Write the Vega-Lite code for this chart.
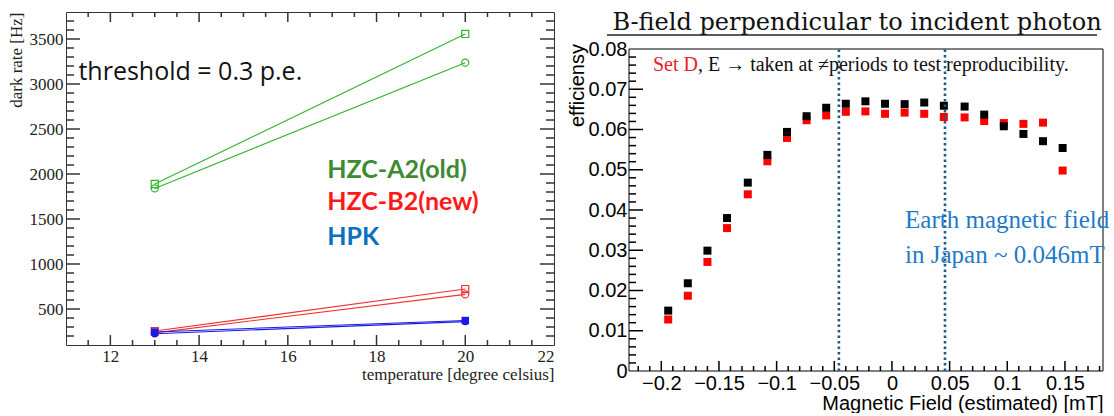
{
  "$schema": "https://vega.github.io/schema/vega-lite/v6.json",
  "background": "white",
  "padding": {"left": 6, "top": 10, "right": 0, "bottom": 0},
  "spacing": 12,
  "config": {
    "view": {"stroke": "#000", "strokeWidth": 1},
    "axis": {"domain": false, "grid": false, "ticks": false}
  },
  "datasets": {
    "dark": [
      {"s": "A2sq", "t": 13, "r": 1889}, {"s": "A2sq", "t": 20, "r": 3556},
      {"s": "A2ci", "t": 13, "r": 1840}, {"s": "A2ci", "t": 20, "r": 3237},
      {"s": "B2sq", "t": 13, "r": 255}, {"s": "B2sq", "t": 20, "r": 722},
      {"s": "B2ci", "t": 13, "r": 235}, {"s": "B2ci", "t": 20, "r": 662},
      {"s": "HPKsq", "t": 13, "r": 245}, {"s": "HPKsq", "t": 20, "r": 372},
      {"s": "HPKci", "t": 13, "r": 225}, {"s": "HPKci", "t": 20, "r": 360}
    ],
    "eff": [
      {"set": "D", "b": -0.194, "e": 0.0128}, {"set": "D", "b": -0.177, "e": 0.0187},
      {"set": "D", "b": -0.160, "e": 0.0271}, {"set": "D", "b": -0.143, "e": 0.0355},
      {"set": "D", "b": -0.125, "e": 0.0439}, {"set": "D", "b": -0.108, "e": 0.0521},
      {"set": "D", "b": -0.091, "e": 0.0579}, {"set": "D", "b": -0.074, "e": 0.0623},
      {"set": "D", "b": -0.057, "e": 0.0635}, {"set": "D", "b": -0.040, "e": 0.0644},
      {"set": "D", "b": -0.023, "e": 0.0645}, {"set": "D", "b": -0.006, "e": 0.0639},
      {"set": "D", "b": 0.011, "e": 0.0642}, {"set": "D", "b": 0.028, "e": 0.0639},
      {"set": "D", "b": 0.045, "e": 0.0631}, {"set": "D", "b": 0.063, "e": 0.0630},
      {"set": "D", "b": 0.080, "e": 0.0621}, {"set": "D", "b": 0.097, "e": 0.0616},
      {"set": "D", "b": 0.114, "e": 0.0614}, {"set": "D", "b": 0.131, "e": 0.0617},
      {"set": "D", "b": 0.148, "e": 0.0498},
      {"set": "E", "b": -0.194, "e": 0.0150}, {"set": "E", "b": -0.177, "e": 0.0218},
      {"set": "E", "b": -0.160, "e": 0.0299}, {"set": "E", "b": -0.143, "e": 0.0380},
      {"set": "E", "b": -0.125, "e": 0.0468}, {"set": "E", "b": -0.108, "e": 0.0537},
      {"set": "E", "b": -0.091, "e": 0.0594}, {"set": "E", "b": -0.074, "e": 0.0633},
      {"set": "E", "b": -0.057, "e": 0.0654}, {"set": "E", "b": -0.040, "e": 0.0664},
      {"set": "E", "b": -0.023, "e": 0.0670}, {"set": "E", "b": -0.006, "e": 0.0664},
      {"set": "E", "b": 0.011, "e": 0.0663}, {"set": "E", "b": 0.028, "e": 0.0667},
      {"set": "E", "b": 0.045, "e": 0.0659}, {"set": "E", "b": 0.063, "e": 0.0657},
      {"set": "E", "b": 0.080, "e": 0.0637}, {"set": "E", "b": 0.097, "e": 0.0608},
      {"set": "E", "b": 0.114, "e": 0.0589}, {"set": "E", "b": 0.131, "e": 0.0571},
      {"set": "E", "b": 0.148, "e": 0.0554}
    ],
    "earth": [{"b": -0.046}, {"b": 0.046}],
    "one": [{}],
    "lymaj": [{"v": 500}, {"v": 1000}, {"v": 1500}, {"v": 2000}, {"v": 2500}, {"v": 3000}, {"v": 3500}],
    "lymin": [{"v": 200}, {"v": 300}, {"v": 400}, {"v": 600}, {"v": 700}, {"v": 800}, {"v": 900}, {"v": 1100}, {"v": 1200}, {"v": 1300}, {"v": 1400}, {"v": 1600}, {"v": 1700}, {"v": 1800}, {"v": 1900}, {"v": 2100}, {"v": 2200}, {"v": 2300}, {"v": 2400}, {"v": 2600}, {"v": 2700}, {"v": 2800}, {"v": 2900}, {"v": 3100}, {"v": 3200}, {"v": 3300}, {"v": 3400}, {"v": 3600}, {"v": 3700}],
    "lxmaj": [{"v": 12}, {"v": 14}, {"v": 16}, {"v": 18}, {"v": 20}],
    "lxmin": [{"v": 11.5}, {"v": 12.5}, {"v": 13}, {"v": 13.5}, {"v": 14.5}, {"v": 15}, {"v": 15.5}, {"v": 16.5}, {"v": 17}, {"v": 17.5}, {"v": 18.5}, {"v": 19}, {"v": 19.5}, {"v": 20.5}, {"v": 21}, {"v": 21.5}],
    "rymaj": [{"v": 0.01}, {"v": 0.02}, {"v": 0.03}, {"v": 0.04}, {"v": 0.05}, {"v": 0.06}, {"v": 0.07}],
    "rymin": [{"v": 0.002}, {"v": 0.004}, {"v": 0.006}, {"v": 0.008}, {"v": 0.012}, {"v": 0.014}, {"v": 0.016}, {"v": 0.018}, {"v": 0.022}, {"v": 0.024}, {"v": 0.026}, {"v": 0.028}, {"v": 0.032}, {"v": 0.034}, {"v": 0.036}, {"v": 0.038}, {"v": 0.042}, {"v": 0.044}, {"v": 0.046}, {"v": 0.048}, {"v": 0.052}, {"v": 0.054}, {"v": 0.056}, {"v": 0.058}, {"v": 0.062}, {"v": 0.064}, {"v": 0.066}, {"v": 0.068}, {"v": 0.072}, {"v": 0.074}, {"v": 0.076}, {"v": 0.078}],
    "rxmaj": [{"v": -0.2}, {"v": -0.15}, {"v": -0.1}, {"v": -0.05}, {"v": 0}, {"v": 0.05}, {"v": 0.1}, {"v": 0.15}],
    "rxmin": [{"v": -0.22}, {"v": -0.21}, {"v": -0.19}, {"v": -0.18}, {"v": -0.17}, {"v": -0.16}, {"v": -0.14}, {"v": -0.13}, {"v": -0.12}, {"v": -0.11}, {"v": -0.09}, {"v": -0.08}, {"v": -0.07}, {"v": -0.06}, {"v": -0.04}, {"v": -0.03}, {"v": -0.02}, {"v": -0.01}, {"v": 0.01}, {"v": 0.02}, {"v": 0.03}, {"v": 0.04}, {"v": 0.06}, {"v": 0.07}, {"v": 0.08}, {"v": 0.09}, {"v": 0.11}, {"v": 0.12}, {"v": 0.13}, {"v": 0.14}, {"v": 0.16}, {"v": 0.17}, {"v": 0.18}]
  },
  "hconcat": [
    {
      "width": 488,
      "height": 333,
      "view": {"stroke": "#333"},
      "resolve": {"axis": {"x": "independent", "y": "independent"}},
      "layer": [
        {
          "data": {"name": "dark"},
          "mark": {"type": "line", "strokeWidth": 1.1},
          "encoding": {
            "x": {"field": "t", "type": "quantitative",
              "scale": {"domain": [11, 22], "nice": false, "zero": false},
              "axis": {"orient": "bottom", "values": [12, 14, 16, 18, 20, 22],
                "labelPadding": 3, "labelFont": "Liberation Serif", "labelFontSize": 17, "labelColor": "#222", "format": "d",
                "title": "temperature [degree celsius]", "titleFont": "Liberation Serif", "titleFontSize": 17,
                "titleFontWeight": "normal", "titleColor": "#222", "titleAnchor": "end", "titlePadding": 2}},
            "y": {"field": "r", "type": "quantitative",
              "scale": {"domain": [100, 3800], "nice": false, "zero": false},
              "axis": {"orient": "left", "values": [500, 1000, 1500, 2000, 2500, 3000, 3500],
                "labelPadding": 3, "labelFont": "Liberation Serif", "labelFontSize": 17, "labelColor": "#222", "format": "d",
                "title": "dark rate [Hz]", "titleFont": "Liberation Serif", "titleFontSize": 17,
                "titleFontWeight": "normal", "titleColor": "#222", "titleAnchor": "end", "titlePadding": 4}},
            "color": {"field": "s", "type": "nominal",
              "scale": {"domain": ["A2sq", "A2ci", "B2sq", "B2ci", "HPKsq", "HPKci"],
                "range": ["#2fb52f", "#2fb52f", "#f03030", "#f03030", "#1a1ae6", "#1a1ae6"]}, "legend": null},
            "detail": {"field": "s"}
          }
        },
        {
          "data": {"name": "dark"},
          "transform": [{"filter": "indexof(datum.s, 'HPK') < 0"}],
          "mark": {"type": "point", "filled": false, "strokeWidth": 1.2, "opacity": 1, "size": 50},
          "encoding": {
            "x": {"field": "t", "type": "quantitative", "axis": null},
            "y": {"field": "r", "type": "quantitative", "axis": null},
            "color": {"field": "s", "type": "nominal", "legend": null},
            "shape": {"field": "s", "type": "nominal",
              "scale": {"domain": ["A2sq", "A2ci", "B2sq", "B2ci", "HPKsq", "HPKci"],
                "range": ["square", "circle", "square", "circle", "square", "circle"]}, "legend": null}
          }
        },
        {
          "data": {"name": "dark"},
          "transform": [{"filter": "indexof(datum.s, 'HPK') >= 0"}],
          "mark": {"type": "point", "filled": true, "opacity": 1, "size": 55},
          "encoding": {
            "x": {"field": "t", "type": "quantitative", "axis": null},
            "y": {"field": "r", "type": "quantitative", "axis": null},
            "color": {"field": "s", "type": "nominal", "legend": null},
            "shape": {"field": "s", "type": "nominal", "legend": null}
          }
        },
        {
          "data": {"name": "lymaj"},
          "mark": {"type": "rule", "strokeWidth": 1.5, "color": "#333"},
          "encoding": {
            "y": {"field": "v", "type": "quantitative", "axis": null},
            "x": {"datum": 11, "type": "quantitative", "axis": null},
            "x2": {"datum": 11.3156}
          }
        },
        {
          "data": {"name": "lymaj"},
          "mark": {"type": "rule", "strokeWidth": 1.5, "color": "#333"},
          "encoding": {
            "y": {"field": "v", "type": "quantitative", "axis": null},
            "x": {"datum": 22, "type": "quantitative", "axis": null},
            "x2": {"datum": 21.6844}
          }
        },
        {
          "data": {"name": "lymin"},
          "mark": {"type": "rule", "strokeWidth": 1.5, "color": "#333"},
          "encoding": {
            "y": {"field": "v", "type": "quantitative", "axis": null},
            "x": {"datum": 11, "type": "quantitative", "axis": null},
            "x2": {"datum": 11.1803}
          }
        },
        {
          "data": {"name": "lymin"},
          "mark": {"type": "rule", "strokeWidth": 1.5, "color": "#333"},
          "encoding": {
            "y": {"field": "v", "type": "quantitative", "axis": null},
            "x": {"datum": 22, "type": "quantitative", "axis": null},
            "x2": {"datum": 21.8197}
          }
        },
        {
          "data": {"name": "lxmaj"},
          "mark": {"type": "rule", "strokeWidth": 1.5, "color": "#333"},
          "encoding": {
            "x": {"field": "v", "type": "quantitative", "axis": null},
            "y": {"datum": 100, "type": "quantitative", "axis": null},
            "y2": {"datum": 211.1}
          }
        },
        {
          "data": {"name": "lxmaj"},
          "mark": {"type": "rule", "strokeWidth": 1.5, "color": "#333"},
          "encoding": {
            "x": {"field": "v", "type": "quantitative", "axis": null},
            "y": {"datum": 3800, "type": "quantitative", "axis": null},
            "y2": {"datum": 3688.9}
          }
        },
        {
          "data": {"name": "lxmin"},
          "mark": {"type": "rule", "strokeWidth": 1.5, "color": "#333"},
          "encoding": {
            "x": {"field": "v", "type": "quantitative", "axis": null},
            "y": {"datum": 100, "type": "quantitative", "axis": null},
            "y2": {"datum": 155.6}
          }
        },
        {
          "data": {"name": "lxmin"},
          "mark": {"type": "rule", "strokeWidth": 1.5, "color": "#333"},
          "encoding": {
            "x": {"field": "v", "type": "quantitative", "axis": null},
            "y": {"datum": 3800, "type": "quantitative", "axis": null},
            "y2": {"datum": 3744.4}
          }
        },
        {
          "data": {"name": "one"},
          "mark": {"type": "text", "align": "left", "baseline": "middle", "font": "Open Sans", "fontSize": 25, "color": "#111"},
          "encoding": {
            "x": {"datum": 11.28, "type": "quantitative", "axis": null},
            "y": {"datum": 3133, "type": "quantitative", "axis": null},
            "text": {"value": "threshold = 0.3 p.e."}
          }
        },
        {
          "data": {"name": "one"},
          "mark": {"type": "text", "align": "left", "baseline": "middle", "font": "Lato", "fontWeight": "bold", "fontSize": 25, "color": "#3d8a33"},
          "encoding": {
            "x": {"datum": 16.89, "type": "quantitative", "axis": null},
            "y": {"datum": 2045, "type": "quantitative", "axis": null},
            "text": {"value": "HZC-A2(old)"}
          }
        },
        {
          "data": {"name": "one"},
          "mark": {"type": "text", "align": "left", "baseline": "middle", "font": "Lato", "fontWeight": "bold", "fontSize": 25, "color": "#ff1a1a"},
          "encoding": {
            "x": {"datum": 16.89, "type": "quantitative", "axis": null},
            "y": {"datum": 1689, "type": "quantitative", "axis": null},
            "text": {"value": "HZC-B2(new)"}
          }
        },
        {
          "data": {"name": "one"},
          "mark": {"type": "text", "align": "left", "baseline": "middle", "font": "Lato", "fontWeight": "bold", "fontSize": 25, "color": "#0b6fc2"},
          "encoding": {
            "x": {"datum": 16.89, "type": "quantitative", "axis": null},
            "y": {"datum": 1300, "type": "quantitative", "axis": null},
            "text": {"value": "HPK"}
          }
        }
      ]
    },
    {
      "width": 474,
      "height": 359,
      "view": {"stroke": null},
      "resolve": {"axis": {"x": "independent", "y": "independent"}},
      "layer": [
        {
          "data": {"name": "eff"},
          "transform": [{"filter": "datum.set === 'D'"}],
          "mark": {"type": "square", "size": 64, "opacity": 1, "color": "#ff0000"},
          "encoding": {
            "x": {"field": "b", "type": "quantitative",
              "scale": {"domain": [-0.228, 0.183], "nice": false, "zero": false},
              "axis": {"orient": "bottom", "values": [-0.2, -0.15, -0.1, -0.05, 0, 0.05, 0.1, 0.15],
                "labelPadding": 2, "labelFont": "Liberation Sans", "labelFontSize": 20, "labelColor": "#000", "format": "~g",
                "title": "Magnetic Field (estimated) [mT]", "titleFont": "Liberation Sans", "titleFontSize": 20,
                "titleFontWeight": "normal", "titleColor": "#000", "titleAnchor": "end", "titlePadding": 0}},
            "y": {"field": "e", "type": "quantitative",
              "scale": {"domain": [0, 0.089193], "nice": false, "zero": false},
              "axis": {"orient": "left", "values": [0, 0.01, 0.02, 0.03, 0.04, 0.05, 0.06, 0.07, 0.08],
                "labelPadding": 2, "labelFont": "Liberation Sans", "labelFontSize": 20, "labelColor": "#000", "format": "~g",
                "title": null}}
          }
        },
        {
          "data": {"name": "eff"},
          "transform": [{"filter": "datum.set === 'E'"}],
          "mark": {"type": "square", "size": 64, "opacity": 1, "color": "#000000"},
          "encoding": {
            "x": {"field": "b", "type": "quantitative", "axis": null},
            "y": {"field": "e", "type": "quantitative", "axis": null}
          }
        },
        {
          "data": {"name": "rymaj"},
          "mark": {"type": "rule", "strokeWidth": 1.5, "color": "#000"},
          "encoding": {
            "y": {"field": "v", "type": "quantitative", "axis": null},
            "x": {"datum": -0.228, "type": "quantitative", "axis": null},
            "x2": {"datum": -0.21586}
          }
        },
        {
          "data": {"name": "rymin"},
          "mark": {"type": "rule", "strokeWidth": 1.5, "color": "#000"},
          "encoding": {
            "y": {"field": "v", "type": "quantitative", "axis": null},
            "x": {"datum": -0.228, "type": "quantitative", "axis": null},
            "x2": {"datum": -0.22193}
          }
        },
        {
          "data": {"name": "rxmaj"},
          "mark": {"type": "rule", "strokeWidth": 1.5, "color": "#000"},
          "encoding": {
            "x": {"field": "v", "type": "quantitative", "axis": null},
            "y": {"datum": 0, "type": "quantitative", "axis": null},
            "y2": {"datum": 0.002484}
          }
        },
        {
          "data": {"name": "rxmin"},
          "mark": {"type": "rule", "strokeWidth": 1.5, "color": "#000"},
          "encoding": {
            "x": {"field": "v", "type": "quantitative", "axis": null},
            "y": {"datum": 0, "type": "quantitative", "axis": null},
            "y2": {"datum": 0.001242}
          }
        },
        {
          "data": {"name": "one"},
          "mark": {"type": "rule", "strokeWidth": 1, "color": "#000"},
          "encoding": {
            "x": {"datum": -0.228, "type": "quantitative", "axis": null},
            "x2": {"datum": 0.183},
            "y": {"datum": 0, "type": "quantitative", "axis": null}
          }
        },
        {
          "data": {"name": "one"},
          "mark": {"type": "rule", "strokeWidth": 1, "color": "#000"},
          "encoding": {
            "x": {"datum": -0.228, "type": "quantitative", "axis": null},
            "x2": {"datum": 0.183},
            "y": {"datum": 0.08, "type": "quantitative", "axis": null}
          }
        },
        {
          "data": {"name": "one"},
          "mark": {"type": "rule", "strokeWidth": 1, "color": "#000"},
          "encoding": {
            "x": {"datum": -0.228, "type": "quantitative", "axis": null},
            "y": {"datum": 0, "type": "quantitative", "axis": null},
            "y2": {"datum": 0.08}
          }
        },
        {
          "data": {"name": "one"},
          "mark": {"type": "rule", "strokeWidth": 1, "color": "#000"},
          "encoding": {
            "x": {"datum": 0.183, "type": "quantitative", "axis": null},
            "y": {"datum": 0, "type": "quantitative", "axis": null},
            "y2": {"datum": 0.08}
          }
        },
        {
          "data": {"name": "earth"},
          "mark": {"type": "rule", "strokeWidth": 2.6, "strokeDash": [2.5, 3], "color": "#1d5b8c"},
          "encoding": {
            "x": {"field": "b", "type": "quantitative", "axis": null},
            "y": {"datum": 0, "type": "quantitative", "axis": null},
            "y2": {"datum": 0.08}
          }
        },
        {
          "data": {"name": "one"},
          "mark": {"type": "text", "align": "center", "baseline": "middle", "font": "DejaVu Serif", "fontSize": 24, "color": "#111"},
          "encoding": {
            "x": {"datum": -0.0303, "type": "quantitative", "axis": null},
            "y": {"datum": 0.08646, "type": "quantitative", "axis": null},
            "text": {"value": "B-field perpendicular to incident photon"}
          }
        },
        {
          "data": {"name": "one"},
          "mark": {"type": "rule", "strokeWidth": 1.5, "color": "#222"},
          "encoding": {
            "x": {"datum": -0.2471, "type": "quantitative", "axis": null},
            "x2": {"datum": 0.1778},
            "y": {"datum": 0.08348, "type": "quantitative", "axis": null}
          }
        },
        {
          "data": {"name": "one"},
          "mark": {"type": "text", "align": "right", "baseline": "middle", "angle": 270, "font": "Liberation Sans", "fontSize": 20, "color": "#000"},
          "encoding": {
            "x": {"datum": -0.2722, "type": "quantitative", "axis": null},
            "y": {"datum": 0.08124, "type": "quantitative", "axis": null},
            "text": {"value": "efficiensy"}
          }
        },
        {
          "data": {"name": "one"},
          "mark": {"type": "text", "align": "left", "baseline": "middle", "font": "Liberation Serif", "fontSize": 20, "color": "#e8202a"},
          "encoding": {
            "x": {"datum": -0.2072, "type": "quantitative", "axis": null},
            "y": {"datum": 0.076, "type": "quantitative", "axis": null},
            "text": {"value": "Set D"}
          }
        },
        {
          "data": {"name": "one"},
          "mark": {"type": "text", "align": "left", "baseline": "middle", "font": "Liberation Serif", "fontSize": 20, "color": "#111"},
          "encoding": {
            "x": {"datum": -0.1682, "type": "quantitative", "axis": null},
            "y": {"datum": 0.076, "type": "quantitative", "axis": null},
            "text": {"value": ", E → taken at ≠periods to test reproducibility."}
          }
        },
        {
          "data": {"name": "one"},
          "mark": {"type": "text", "align": "left", "baseline": "middle", "font": "Liberation Serif", "fontSize": 25, "color": "#1f7ac9"},
          "encoding": {
            "x": {"datum": 0.0114, "type": "quantitative", "axis": null},
            "y": {"datum": 0.0375, "type": "quantitative", "axis": null},
            "text": {"value": "Earth magnetic field"}
          }
        },
        {
          "data": {"name": "one"},
          "mark": {"type": "text", "align": "left", "baseline": "middle", "font": "Liberation Serif", "fontSize": 25, "color": "#1f7ac9"},
          "encoding": {
            "x": {"datum": 0.0114, "type": "quantitative", "axis": null},
            "y": {"datum": 0.0288, "type": "quantitative", "axis": null},
            "text": {"value": "in Japan ~ 0.046mT"}
          }
        }
      ]
    }
  ]
}
